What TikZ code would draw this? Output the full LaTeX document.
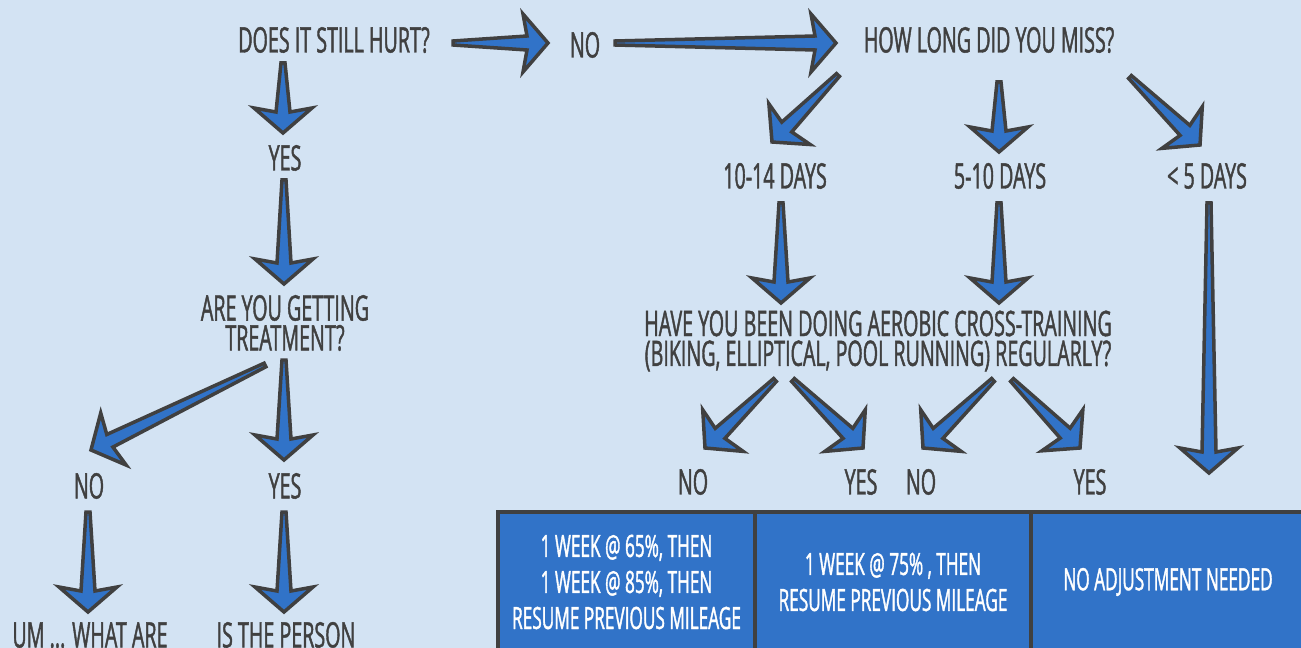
\documentclass[tikz,border=0pt]{standalone}
\usepackage{fontspec}
\setmainfont{Open Sans}[FakeStretch=0.56, FakeBold=1.2]
\usepackage{xcolor}
\usepackage{tikz}
\usetikzlibrary{calc}

\definecolor{bgblue}{HTML}{D3E3F3}
\definecolor{arrowblue}{HTML}{3173C8}
\definecolor{inkgray}{HTML}{404040}

\newcommand{\askfont}{\fontsize{20}{17}\selectfont}
\newcommand{\planfont}{\fontsize{17.5}{20.5}\selectfont}

% tapered block arrow, tail #1, tip #2
\newcommand{\fatarrow}[2]{%
    \coordinate (fa-t) at (#1);
    \coordinate (fa-p) at (#2);
    \coordinate (fa-b) at ($(fa-p)!0.5cm!(fa-t)$);
    \coordinate (fa-i) at ($(fa-p)!0.42cm!(fa-t)$);
    \draw[bigarrow] ($(fa-t)!0.04cm!90:(fa-p)$) -- ($(fa-i)!0.14cm!90:(fa-p)$)
        -- ($(fa-b)!0.58cm!90:(fa-p)$) -- (fa-p) -- ($(fa-b)!0.58cm!-90:(fa-p)$)
        -- ($(fa-i)!0.14cm!-90:(fa-p)$) -- ($(fa-t)!0.04cm!-90:(fa-p)$) -- cycle;
}

\begin{document}
\begin{tikzpicture}[x=0.02cm, y=-0.02cm,
    ask/.style={text=inkgray, font=\askfont, align=center, inner sep=0pt},
    one/.style={ask, text height=0.5cm, text depth=0pt},
    plan/.style={rectangle, draw=inkgray, fill=arrowblue, line width=0.08cm,
                 text=white, font=\planfont, align=center, inner sep=0pt,
                 minimum height=2.8cm},
    bigarrow/.style={draw=inkgray, fill=arrowblue, line width=0.07cm,
                     line join=miter, miter limit=4}
]
    % Background and frame
    \useasboundingbox (0,0) rectangle (1301,648);
    \clip (0,0) rectangle (1301,648);
    \fill[bgblue] (0,0) rectangle (1301,648);

    % Questions and answers
    \node[one] (hurt) at (334,40) {DOES IT STILL HURT?};
    \node[one] (no1) at (585,45) {NO};
    \node[one] (howlong) at (989,40) {HOW LONG DID YOU MISS?};
    \node[one] (yes1) at (285,158) {YES};
    \node[ask] (treat) at (285,323) {ARE YOU GETTING\\TREATMENT?};
    \node[one] (noL) at (89,486) {NO};
    \node[one] (yesL) at (285,486) {YES};
    \node[one] (um) at (90,635) {UM ... WHAT ARE};
    \node[one] (person) at (286,635) {IS THE PERSON};
    \node[one] (dlong) at (775,176) {10-14 DAYS};
    \node[one] (dmid) at (1000,176) {5-10 DAYS};
    \node[one] (dshort) at (1207,176) {< 5 DAYS};
    \node[ask] (cross) at (878,341) {HAVE YOU BEEN DOING AEROBIC CROSS-TRAINING\\(BIKING, ELLIPTICAL, POOL RUNNING) REGULARLY?};
    \node[one] (noA) at (693,482) {NO};
    \node[one] (yesA) at (861,482) {YES};
    \node[one] (noB) at (921,482) {NO};
    \node[one] (yesB) at (1090,482) {YES};

    % Mileage plans
    \node[plan, minimum width=5.14cm] (plan1) at (626.5,582) {1 WEEK @ 65\%, THEN\\1 WEEK @ 85\%, THEN\\RESUME PREVIOUS MILEAGE};
    \node[plan, minimum width=5.52cm] (plan2) at (893,582) {1 WEEK @ 75\% , THEN\\RESUME PREVIOUS MILEAGE};
    \node[plan, minimum width=5.48cm] (plan3) at (1168,582) {NO ADJUSTMENT NEEDED};

    % Arrows
    \fatarrow{$(hurt)+(-51,23)$}{$(yes1)+(-2,-25)$}
    \fatarrow{$(yes1)+(-1,22)$}{$(treat)+(-1,-39)$}
    \fatarrow{$(hurt)+(119,3)$}{$(no1)+(-37,-2)$}
    \fatarrow{$(no1)+(30,-2)$}{$(howlong)+(-153,3)$}
    \fatarrow{$(howlong)+(-151,35)$}{$(dlong)+(-3,-34)$}
    \fatarrow{$(howlong)+(10,42)$}{$(dmid)+(-1,-24)$}
    \fatarrow{$(howlong)+(141,37)$}{$(dshort)+(-7,-31)$}
    \fatarrow{$(dlong)+(6,27)$}{$(cross)+(-97,-38)$}
    \fatarrow{$(dmid)+(-1,27)$}{$(cross)+(121,-38)$}
    \fatarrow{$(dshort)+(2,27)$}{$(plan3.north)+(41,-37)$}
    \fatarrow{$(cross)+(-103,39)$}{$(noA)+(12,-34)$}
    \fatarrow{$(cross)+(-85,39)$}{$(yesA)+(2,-34)$}
    \fatarrow{$(cross)+(115,39)$}{$(noB)+(2,-34)$}
    \fatarrow{$(cross)+(134,39)$}{$(yesB)+(-10,-34)$}
    \fatarrow{$(treat)+(-20,42)$}{$(noL)+(2,-36)$}
    \fatarrow{$(treat)+(-1,37)$}{$(yesL)+(-1,-26)$}
    \fatarrow{$(noL)+(-1,26)$}{$(um)+(-2,-23)$}
    \fatarrow{$(yesL)+(-1,26)$}{$(person)+(-2,-23)$}
\end{tikzpicture}
\end{document}
